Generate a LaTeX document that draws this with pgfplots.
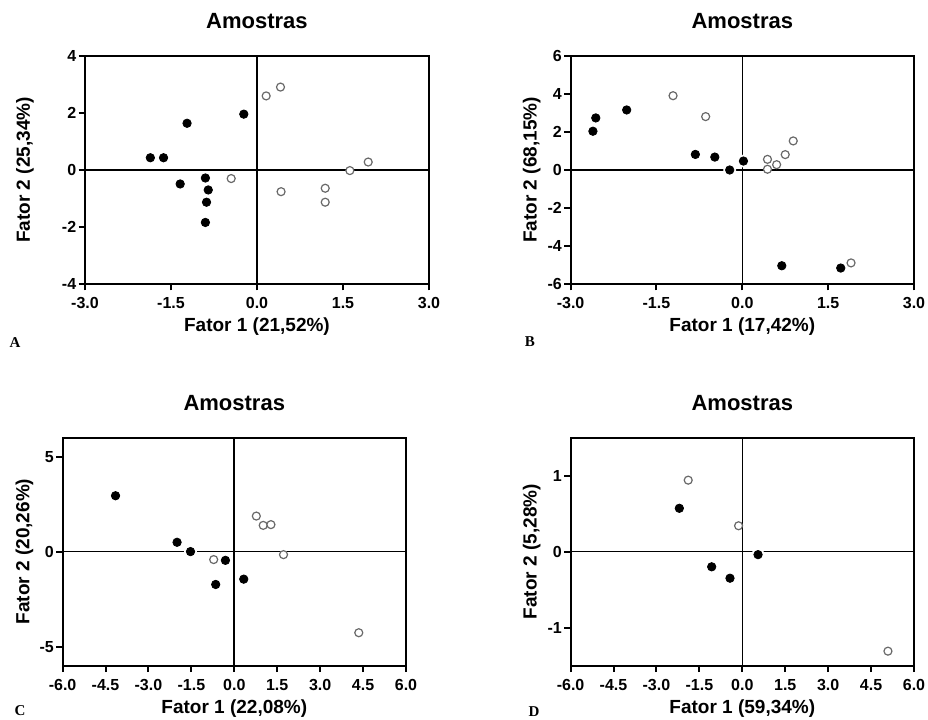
\documentclass[border=0pt]{standalone}
\usepackage{fontspec}
\setmainfont{Liberation Sans}
\newfontfamily\letterfont{Liberation Serif}
\usepackage{pgfplots}
\usepackage{pgfplotstable}
\pgfplotsset{compat=1.18}

\definecolor{opengray}{RGB}{105,105,105}

\pgfplotstableread{
x y
-1.86 0.43
-1.63 0.43
-1.22 1.64
-0.23 1.96
-1.34 -0.49
-0.90 -0.28
-0.85 -0.70
-0.88 -1.13
-0.90 -1.84
}\Afilled
\pgfplotstableread{
x y
-0.45 -0.30
0.16 2.60
0.41 2.91
0.42 -0.76
1.19 -0.64
1.19 -1.13
1.62 -0.02
1.94 0.28
}\Aopen
\pgfplotstableread{
x y
-2.61 2.04
-2.56 2.74
-2.02 3.16
-0.82 0.82
-0.48 0.68
-0.22 0.00
0.02 0.47
0.69 -5.04
1.72 -5.16
}\Bfilled
\pgfplotstableread{
x y
-1.21 3.91
-0.64 2.81
0.44 0.56
0.44 0.04
0.60 0.28
0.75 0.81
0.89 1.53
1.90 -4.89
}\Bopen
\pgfplotstableread{
x y
-4.15 2.94
-2.00 0.49
-1.53 0.00
-0.31 -0.46
-0.65 -1.73
0.33 -1.45
}\Cfilled
\pgfplotstableread{
x y
-0.72 -0.42
0.77 1.87
1.01 1.38
1.28 1.42
1.72 -0.16
4.35 -4.27
}\Copen
\pgfplotstableread{
x y
-2.20 0.57
-1.07 -0.20
-0.43 -0.35
0.55 -0.04
}\Dfilled
\pgfplotstableread{
x y
-1.89 0.94
-0.13 0.34
5.09 -1.31
}\Dopen

\pgfplotsset{
  pcaaxis/.style={
    scale only axis,
    anchor=south west,
    axis line style={line width=1pt},
    every tick/.style={line width=1pt, black},
    tick align=outside,
    major tick length=3.2pt,
    xtick pos=bottom, ytick pos=left,
    clip=false,
    /pgf/number format/assume math mode=true,
    ticklabel style={font=\fontsize{8}{9}\selectfont\bfseries},
    yticklabel style={inner sep=1pt},
    xticklabel style={/pgf/number format/.cd, fixed, fixed zerofill, precision=1},
    title={Amostras},
    title style={at={(0.5,1)}, anchor=center, yshift=11.5pt, font=\fontsize{11}{13}\selectfont\bfseries},
    xlabel style={at={(axis description cs:0.5,0)}, anchor=center, yshift=-21.5pt, font=\fontsize{9.5}{11}\selectfont\bfseries},
    ylabel style={anchor=center, font=\fontsize{9.5}{11}\selectfont\bfseries},
    width=171.7pt, height=114pt,
  },
  halo/.style={white, only marks, mark=*, mark size=3pt},
  filled/.style={black, only marks, mark=*, mark size=2.1pt},
  open/.style={opengray, only marks, mark=*, mark size=2.0pt, line width=0.6pt, mark options={fill=white}},
}

\begin{document}
\begin{tikzpicture}
\useasboundingbox (0,0) rectangle (464pt,359.5pt);

% Panel A
\begin{axis}[pcaaxis, at={(42.5pt,217.5pt)}, width=172pt,
  xmin=-3, xmax=3, ymin=-4, ymax=4,
  xtick={-3,-1.5,0,1.5,3}, ytick={-4,-2,0,2,4},
  xlabel={Fator 1 (21,52\%)}, ylabel={Fator 2 (25,34\%)},
  ylabel style={at={(axis description cs:-0.1744,0.5)}}]
  \draw[line width=0.8pt] (axis cs:0,-4) -- (axis cs:0,4);
  \draw[line width=0.8pt] (axis cs:-3,0) -- (axis cs:3,0);
  \addplot[halo] table {\Afilled};
  \addplot[filled] table {\Afilled};
  \addplot[open] table {\Aopen};
\end{axis}

% Panel B
\begin{axis}[pcaaxis, at={(285.3pt,217.5pt)},
  xmin=-3, xmax=3, ymin=-6, ymax=6,
  xtick={-3,-1.5,0,1.5,3}, ytick={-6,-4,-2,0,2,4,6},
  xlabel={Fator 1 (17,42\%)}, ylabel={Fator 2 (68,15\%)},
  ylabel style={at={(axis description cs:-0.1136,0.5)}}]
  \draw[line width=0.8pt] (axis cs:0,-6) -- (axis cs:0,6);
  \draw[line width=0.8pt] (axis cs:-3,0) -- (axis cs:3,0);
  \addplot[halo] table {\Bfilled};
  \addplot[filled] table {\Bfilled};
  \addplot[open] table {\Bopen};
\end{axis}

% Panel C
\begin{axis}[pcaaxis, at={(31.3pt,26.7pt)},
  xmin=-6, xmax=6, ymin=-6, ymax=6,
  xtick={-6,-4.5,-3,-1.5,0,1.5,3,4.5,6}, ytick={-5,0,5},
  xlabel={Fator 1 (22,08\%)}, ylabel={Fator 2 (20,26\%)},
  ylabel style={at={(axis description cs:-0.1107,0.5)}}]
  \draw[line width=0.8pt] (axis cs:0,-6) -- (axis cs:0,6);
  \draw[line width=0.8pt] (axis cs:-6,0) -- (axis cs:6,0);
  \addplot[halo] table {\Cfilled};
  \addplot[filled] table {\Cfilled};
  \addplot[open] table {\Copen};
\end{axis}

% Panel D
\begin{axis}[pcaaxis, at={(285.3pt,26.7pt)},
  xmin=-6, xmax=6, ymin=-1.5, ymax=1.5,
  xtick={-6,-4.5,-3,-1.5,0,1.5,3,4.5,6}, ytick={-1,0,1},
  xlabel={Fator 1 (59,34\%)}, ylabel={Fator 2 (5,28\%)},
  ylabel style={at={(axis description cs:-0.1136,0.5)}}]
  \draw[line width=0.8pt] (axis cs:0,-1.5) -- (axis cs:0,1.5);
  \draw[line width=0.8pt] (axis cs:-6,0) -- (axis cs:6,0);
  \addplot[halo] table {\Dfilled};
  \addplot[filled] table {\Dfilled};
  \addplot[open] table {\Dopen};
\end{axis}

\node[font=\letterfont\bfseries\fontsize{7.5}{9}\selectfont] at (7.5pt,188pt) {A};
\node[font=\letterfont\bfseries\fontsize{7.5}{9}\selectfont] at (265pt,188.5pt) {B};
\node[font=\letterfont\bfseries\fontsize{7.5}{9}\selectfont] at (10pt,4pt) {C};
\node[font=\letterfont\bfseries\fontsize{7.5}{9}\selectfont] at (267pt,3.5pt) {D};
\end{tikzpicture}
\end{document}
